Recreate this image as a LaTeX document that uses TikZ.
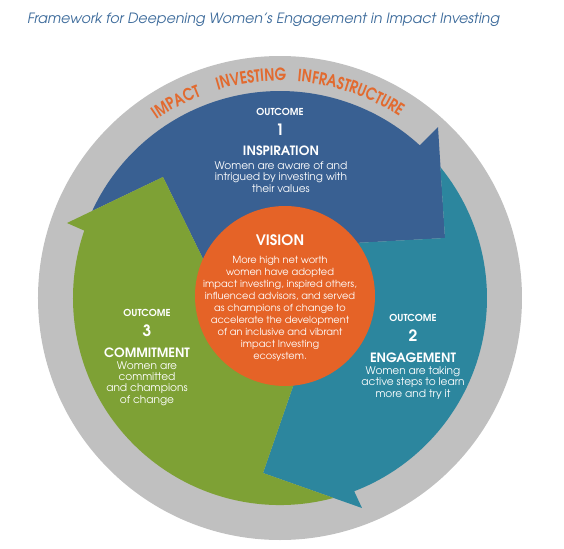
\documentclass[tikz,border=0pt]{standalone}
\usepackage{fontspec}
\setmainfont{TeX Gyre Adventor}
\newfontfamily\ringfont[FakeStretch=0.82]{TeX Gyre Adventor}
\usetikzlibrary{decorations.text, positioning}
\definecolor{ringgrey}{RGB}{192,192,192}
\definecolor{inspblue}{RGB}{57,96,146}
\definecolor{engteal}{RGB}{44,134,158}
\definecolor{comgreen}{RGB}{126,161,53}
\definecolor{visorange}{RGB}{229,99,39}
\definecolor{ringorange}{RGB}{226,106,47}
\definecolor{titleblue}{RGB}{61,107,155}

\begin{document}
\begin{tikzpicture}[
    x=0.5pt, y=0.5pt,
    outlabel/.style={text=white, inner sep=0pt, font=\bfseries\fontsize{4.8}{5}\selectfont},
    outnum/.style={text=white, inner sep=0pt, font=\bfseries\fontsize{7.8}{8}\selectfont},
    outtitle/.style={text=white, inner sep=0pt, font=\bfseries\fontsize{6.4}{7}\selectfont},
    outtext/.style={text=white, inner sep=0pt, align=center, font=\fontsize{5.3}{5.7}\selectfont},
    ringword/.style={decorate, decoration={text along path, text align=center, text color=ringorange, text={|\ringfont\bfseries\fontsize{8.4}{9}\selectfont|#1}}}
]
    \useasboundingbox (-280,-250) rectangle (284,298);

    \node[anchor=base west, inner sep=0pt, text=titleblue, font=\itshape\fontsize{7.1}{8}\selectfont] (title) at (-253,275) {Framework for Deepening Women’s Engagement in Impact Investing};

    % infrastructure ring
    \fill[ringgrey] (0,0) circle[radius=242];
    \path[ringword=IMPACT] (143:217) arc[start angle=143, end angle=93, radius=217];
    \path[ringword=INVESTING] (122:217) arc[start angle=122, end angle=73, radius=217];
    \path[ringword=INFRASTRUCTURE] (101:217) arc[start angle=101, end angle=41, radius=217];

    % the three outcome arrows
    \fill[inspblue] (-73,31) -- (-117,121) -- (155.1:207) arc[start angle=155.1, end angle=47.5, radius=207]
        -- (158,171) -- (165,60) -- (75,55) -- (0,0) -- cycle;
    \fill[engteal] (75,55) -- (165,60) -- (39.2:207) arc[start angle=39.2, end angle=-69, radius=207]
        -- (82,-210) -- (-17,-175) -- (18,-74) -- (0,0) -- cycle;
    \fill[comgreen] (18,-74) -- (-17,-175) -- (-75:207) arc[start angle=-75, end angle=-199, radius=207]
        -- (-213,75) -- (-117,121) -- (-73,31) -- (0,0) -- cycle;

    % vision
    \node[circle, fill=visorange, minimum size=90pt, inner sep=0pt] (vision) at (5,2) {};
    \node[outnum, font=\bfseries\fontsize{7.2}{8}\selectfont] (vistitle) at (0,58) {VISION};
    \node[outtext, font=\fontsize{4.9}{6}\selectfont] (vistext) at (0,-11) {More high net worth\\women have adopted\\impact investing, inspired others,\\influenced advisors, and served\\as champions of change to\\accelerate the development\\of an inclusive and vibrant\\impact Investing\\ecosystem.};

    % outcome 1
    \node[outlabel] (out1) at (0,186) {OUTCOME};
    \node[outnum] (num1) at (0,168) {1};
    \node[outtitle] (insp) at (1,147) {INSPIRATION};
    \node[outtext] (insptext) at (1,121) {Women are aware of and\\intrigued by investing with\\their values};

    % outcome 2
    \node[outlabel] (out2) at (133,-20) {OUTCOME};
    \node[outnum] (num2) at (133,-38) {2};
    \node[outtitle] (eng) at (133,-60) {ENGAGEMENT};
    \node[outtext] (engtext) at (133,-85) {Women are taking\\active steps to learn\\more and try it};

    % outcome 3
    \node[outlabel] (out3) at (-133,-15) {OUTCOME};
    \node[outnum] (num3) at (-133,-33) {3};
    \node[outtitle] (com) at (-133,-55) {COMMITMENT};
    \node[outtext] (comtext) at (-133,-85.5) {Women are\\committed\\and champions\\of change};
\end{tikzpicture}
\end{document}
